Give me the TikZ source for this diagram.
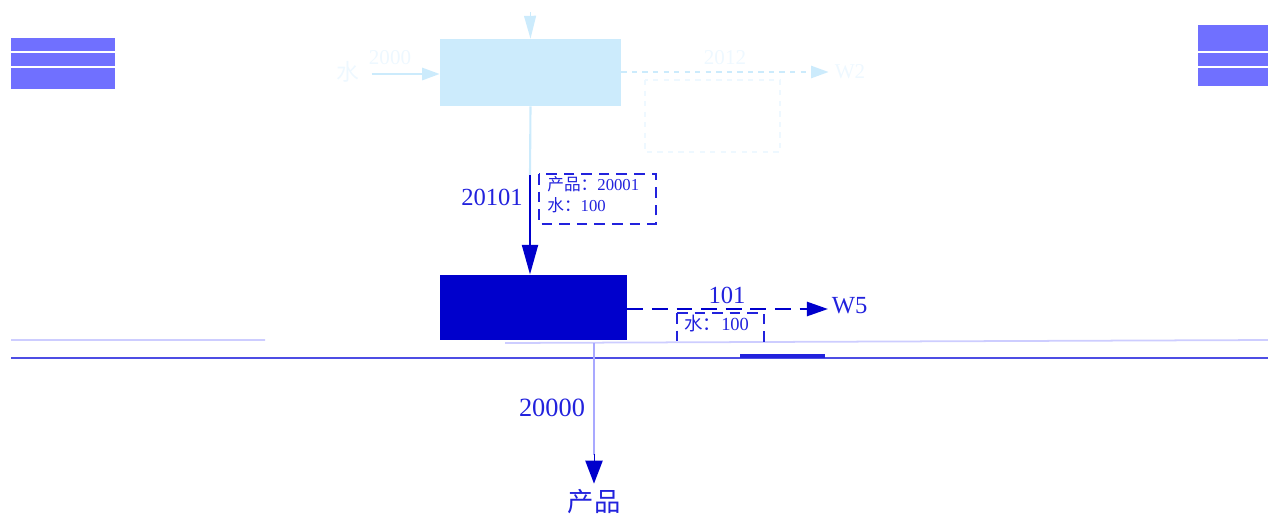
\documentclass[tikz,border=0pt]{standalone}
\usepackage{fontspec}
\setmainfont{Liberation Serif}
\newfontfamily\cjk{Noto Sans CJK SC}
\usetikzlibrary{arrows.meta}

\definecolor{paleblue}{HTML}{CCEBFC}
\definecolor{ghostblue}{HTML}{EEF8FF}
\definecolor{deepblue}{HTML}{0000CC}
\definecolor{textblue}{HTML}{2222DD}
\definecolor{glitchblue}{HTML}{7070FF}

\tikzset{
	unitbox/.style={draw=none,minimum width=0,inner sep=0},
	flow/.style={line width=1.6pt,-{Triangle[length=17pt,width=9pt]}},
	flowlbl/.style={text=textblue,font=\fontsize{14}{15}\selectfont},
	notebox/.style={draw=textblue,dashed,line width=1pt,dash pattern=on 6pt off 4pt},
	notetext/.style={text=textblue,font=\fontsize{9.5}{12}\selectfont,align=left,inner sep=0}
}

\begin{document}
\begin{tikzpicture}[x=0.02cm,y=-0.02cm]

\useasboundingbox (0,0) rectangle (1268,522);

% Glitch blocks and stray lines
\fill[glitchblue] (11,38) rectangle (115,89);
\draw[white,line width=0.6pt] (11,52) -- (115,52) (11,67) -- (115,67);
\fill[glitchblue] (1198,25) rectangle (1268,86);
\draw[white,line width=0.6pt] (1198,52) -- (1268,52) (1198,67) -- (1268,67);
\draw[glitchblue!35,line width=1pt] (11,340) -- (265,340) (505,343) -- (1268,340);
\draw[textblue!80,line width=0.8pt] (11,358) -- (1268,358);
\fill[textblue] (740,354) rectangle (825,358);

% Upper unit
\node[unitbox,fill=paleblue,minimum width=181*0.02cm,minimum height=67*0.02cm] (top) at (530.5,72.5) {};
\coordinate (feed) at (530,12);
\draw[paleblue,line width=0pt,-{Triangle[length=13pt,width=7pt]}] (feed) -- (top.north);

\node[text=ghostblue,font=\fontsize{13}{14}\selectfont\cjk] (water) at (348,72) {水};
\draw[paleblue,line width=1.2pt,-{Triangle[length=10pt,width=7pt]}] (water.east) ++(6,2) coordinate (wstart) -- (top.west |- 0,74);
\node[text=ghostblue,font=\fontsize{12}{13}\selectfont] at (390,58) {2000};

\node[text=ghostblue,font=\fontsize{12}{13}\selectfont] (wtwo) at (850,72) {W2};
\draw[paleblue,line width=1pt,dashed,-{Triangle[length=10pt,width=7pt]}] (top.east |- 0,72) -- (wtwo.west);
\node[text=ghostblue,font=\fontsize{12}{13}\selectfont] at (725,58) {2012};
\draw[ghostblue,dashed,line width=1pt] (645,80) rectangle (780,152);

% Lower unit
\node[unitbox,fill=deepblue,minimum width=187*0.02cm,minimum height=65*0.02cm] (bottom) at (533.5,307.5) {};

\coordinate (mid) at (530,175);
\draw[paleblue,line width=1.2pt] (top.south) -- (mid);
\draw[flow,deepblue] (mid) -- (bottom.north -| mid);
\node[flowlbl] at (492,197) {20101};
\draw[notebox] (539,174) rectangle (656,224);
\node[notetext,anchor=north west] (noteone) at (547,176) {{\cjk 产品：}20001\\{\cjk 水：}100};

\node[flowlbl,anchor=west,inner sep=2pt] (wfive) at (828,306) {W5};
\draw[deepblue,line width=1.4pt,dashed,dash pattern=on 9pt off 5pt,-{Triangle[length=12pt,width=8pt]}] (bottom.east |- 0,309) -- (wfive.west |- 0,309);
\node[flowlbl] at (727,295) {101};
\draw[notebox] (677,313) -- (677,345) (677,313) -- (764,313) -- (764,345);
\node[notetext,anchor=north west,font=\fontsize{10.5}{12}\selectfont] (notetwo) at (684,315) {{\cjk 水：}100};

\coordinate (split) at (594,343);
\node[text=textblue,font=\fontsize{15}{16}\selectfont\cjk] (product) at (594,502) {产品};
\draw[glitchblue!60,line width=1.2pt] (split) -- (594,455);
\draw[deepblue,line width=0pt,-{Triangle[length=13pt,width=10pt]}] (594,454) -- (product.north);
\node[flowlbl,font=\fontsize{15}{16}\selectfont] at (552,408) {20000};

\end{tikzpicture}
\end{document}
